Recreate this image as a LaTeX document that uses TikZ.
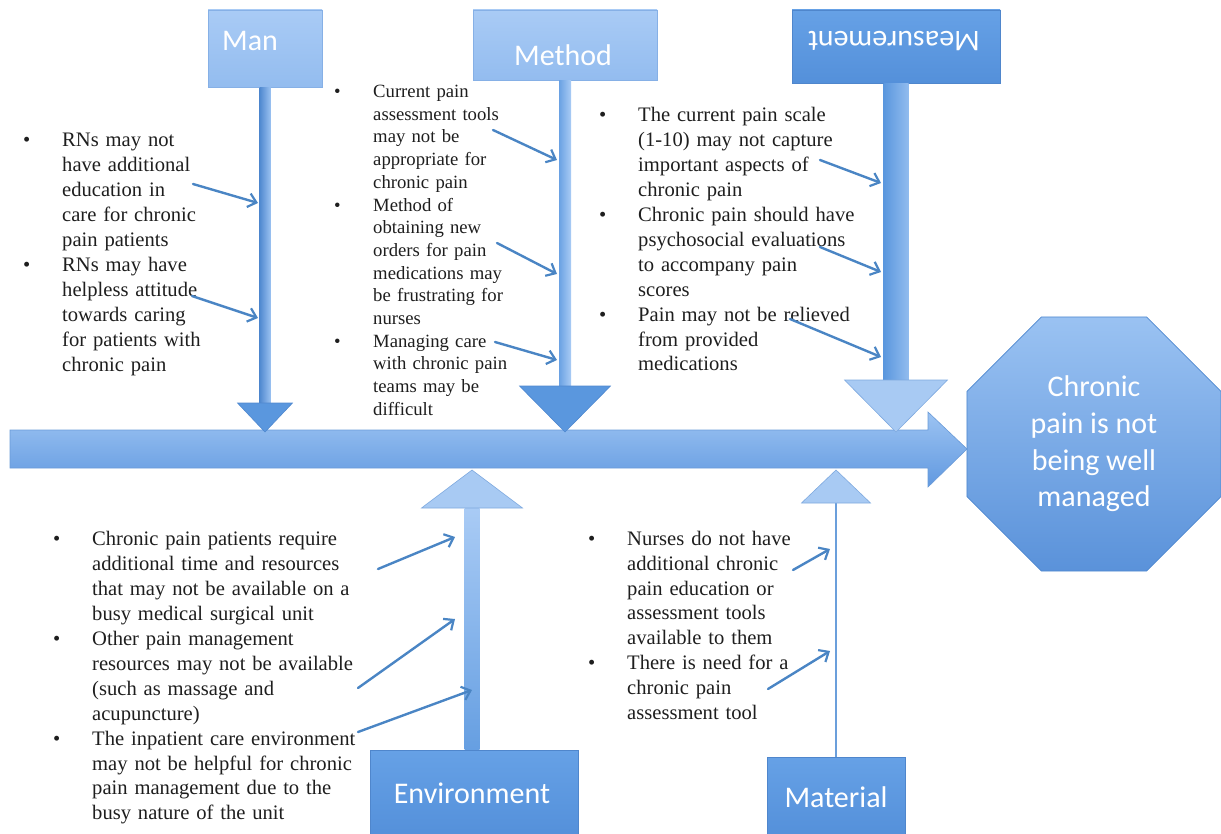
\documentclass[tikz,border=0pt]{standalone}
\usepackage{fontspec}
\setmainfont{Liberation Serif}
\newfontfamily\catfont{Carlito}
\usetikzlibrary{arrows.meta,calc,shapes.geometric}

\definecolor{lbtop}{HTML}{A9CBF5}
\definecolor{lbbot}{HTML}{93BCEF}
\definecolor{lbedge}{HTML}{86B0E6}
\definecolor{dbtop}{HTML}{66A1E6}
\definecolor{dbbot}{HTML}{5490DA}
\definecolor{dbedge}{HTML}{4F86CC}
\definecolor{spinetop}{HTML}{9CC3F2}
\definecolor{spinebot}{HTML}{6199E0}
\definecolor{spineedge}{HTML}{6A9BD8}
\definecolor{octtop}{HTML}{9AC2F2}
\definecolor{octbot}{HTML}{5A92DA}
\definecolor{headlight}{HTML}{A8CAF3}
\definecolor{headlightedge}{HTML}{7EA9DF}
\definecolor{headdark}{HTML}{5A97DE}
\definecolor{headdarkedge}{HTML}{4F88CF}
\definecolor{causeblue}{HTML}{4A85C4}
\definecolor{textgray}{HTML}{1E1E1E}
\definecolor{thinbone}{HTML}{6B9FDB}

% bullet hung to the left of the text column
\newcommand\bul{\leavevmode\llap{\makebox[39pt][l]{\textbullet}}}

\begin{document}
\begin{tikzpicture}[x=1pt,y=-1pt,
  lightbox/.style={draw=lbedge,line width=0.6pt,top color=lbtop,bottom color=lbbot,inner sep=0},
  darkbox/.style={draw=dbedge,line width=0.6pt,top color=dbtop,bottom color=dbbot,inner sep=0},
  catlabel/.style={font=\catfont\fontsize{30}{36}\selectfont,text=white,inner sep=0},
  lighthead/.style={draw=headlightedge,line width=0.6pt,fill=headlight},
  darkhead/.style={draw=headdarkedge,line width=0.6pt,fill=headdark},
  causes/.style={font=\fontsize{20.6}{24.9}\selectfont,text=textgray,inner sep=0,
    anchor=north west,text width=310,align=left},
  causessmall/.style={causes,font=\fontsize{18.7}{22.7}\selectfont},
  cause/.style={draw=causeblue,line width=2.4pt,line cap=round,
    -{Straight Barb[length=8pt,width=14pt,line width=2.2pt]}}
]
\useasboundingbox (0,0) rectangle (1221,834);

% ---------- main spine ----------
\coordinate (spinetip) at (967,449);
\path[draw=spineedge,line width=0.6pt,top color=spinetop,bottom color=spinebot]
  (10,430) -- (928,430) -- (928,412) -- (spinetip) -- (928,487) -- (928,468)
  -- (10,468) -- cycle;

% ---------- effect ----------
\node[regular polygon,regular polygon sides=8,minimum size=275,inner sep=0,
  draw=headdarkedge,line width=0.6pt,top color=octtop,bottom color=octbot,
  font=\catfont\fontsize{30}{36.7}\selectfont,text=white,align=center]
  (effect) at (1094,444) {Chronic\\pain is not\\being well\\managed};

% ---------- category boxes ----------
\node[lightbox,minimum width=114,minimum height=77] (manbox) at (265,48.5) {};
\node[lightbox,minimum width=184,minimum height=70] (methodbox) at (565,45) {};
\node[darkbox,minimum width=208,minimum height=73] (measbox) at (896,46.5) {};
\node[darkbox,minimum width=208,minimum height=86] (envbox) at (474,793) {};
\node[darkbox,minimum width=138,minimum height=79] (matbox) at (836,796.5) {};

\node[catlabel,anchor=base west] (manlbl) at (222,51) {Man};
\node[catlabel,anchor=base] (methodlbl) at (563,66) {Method};
\node[catlabel,anchor=base,rotate=180] (measlbl) at (894,32) {Measurement};
\node[catlabel,anchor=base] (envlbl) at (472,803) {Environment};
\node[catlabel,anchor=base] (matlbl) at (836,807) {Material};

% ---------- bones ----------
\coordinate (mantip) at (265,432);
\coordinate (methodtip) at (565,432);
\coordinate (meastip) at (896,432);
\coordinate (envtip) at (472,470);
\coordinate (mattip) at (836,470);

% Man
\path[left color=headdarkedge,right color=lbtop!80!headdark]
  ($(manbox.south)+(-5.5,0)$) rectangle ($(mantip)+(5.5,-29)$);
\path[darkhead] (mantip) -- ++(-27.5,-29) -- ++(55,0) -- cycle;
% Method
\path[left color=headdark!80!lbtop,right color=lbtop]
  ($(methodbox.south)+(-6,0)$) rectangle ($(methodtip)+(6,-46)$);
\path[darkhead] (methodtip) -- ++(-45.5,-46) -- ++(91,0) -- cycle;
% Measurement
\path[left color=headdark,right color=lbtop!70!headdark]
  ($(measbox.south)+(-12.5,0)$) rectangle ($(meastip)+(12.5,-52)$);
\path[lighthead] (meastip) -- ++(-51.5,-52) -- ++(103,0) -- cycle;
% Environment
\path[top color=lbtop,bottom color=headdark!85!lbtop]
  ($(envtip)+(-7.5,38)$) rectangle ($(envbox.north)+(5.5,0)$);
\path[lighthead] (envtip) -- ++(-50.5,38) -- ++(101,0) -- cycle;
% Material
\draw[thinbone,line width=2.6pt] (matbox.north) -- ($(mattip)+(0,33)$);
\path[lighthead] (mattip) -- ++(-34.5,33) -- ++(69,0) -- cycle;

% ---------- cause texts ----------
\node[causes] (mantxt) at (62,129.3) {\noindent\strut\bul RNs may not\\
have additional\\education in\\care for chronic\\pain patients\\
\bul RNs may have\\helpless attitude\\towards caring\\for patients with\\chronic pain};

\node[causessmall] (methodtxt) at (373,81.5) {\noindent\strut\bul Current pain\\
assessment tools\\may not be\\appropriate for\\chronic pain\\
\bul Method of\\obtaining new\\orders for pain\\medications may\\be frustrating for\\nurses\\
\bul Managing care\\with chronic pain\\teams may be\\difficult};

\node[causes] (meastxt) at (638,104.3) {\noindent\strut\bul The current pain scale\\
(1-10) may not capture\\important aspects of\\chronic pain\\
\bul Chronic pain should have\\psychosocial evaluations\\to accompany pain\\scores\\
\bul Pain may not be relieved\\from provided\\medications};

\node[causes] (envtxt) at (92,528.3) {\noindent\strut\bul Chronic pain patients require\\
additional time and resources\\that may not be available on a\\busy medical surgical unit\\
\bul Other pain management\\resources may not be available\\(such as massage and\\acupuncture)\\
\bul The inpatient care environment\\may not be helpful for chronic\\pain management due to the\\busy nature of the unit};

\node[causes] (mattxt) at (627,527.6) {\noindent\strut\bul Nurses do not have\\
additional chronic\\pain education or\\assessment tools\\available to them\\
\bul There is need for a\\chronic pain\\assessment tool};

% ---------- cause arrows ----------
\coordinate (a1s) at (193,184);  \coordinate (a1e) at (258,203);
\coordinate (a2s) at (192,296);  \coordinate (a2e) at (258,318);
\coordinate (b1s) at (493,130);  \coordinate (b1e) at (557,160);
\coordinate (b2s) at (497,243);  \coordinate (b2e) at (557,274);
\coordinate (b3s) at (495,342);  \coordinate (b3e) at (557,360);
\coordinate (c1s) at (820,160);  \coordinate (c1e) at (881,183);
\coordinate (c2s) at (820,247);  \coordinate (c2e) at (881,272);
\coordinate (c3s) at (790,319);  \coordinate (c3e) at (881,357);
\coordinate (d1s) at (378,569);  \coordinate (d1e) at (455,537);
\coordinate (d2s) at (358,688);  \coordinate (d2e) at (455,619);
\coordinate (d3s) at (358,732);  \coordinate (d3e) at (472,690);
\coordinate (e1s) at (793,570);  \coordinate (e1e) at (830,549);
\coordinate (e2s) at (768,689);  \coordinate (e2e) at (830,651);

\foreach \p in {a1,a2,b1,b2,b3,c1,c2,c3,d1,d2,d3,e1,e2}
  \draw[cause] (\p s) -- (\p e);
\end{tikzpicture}
\end{document}
